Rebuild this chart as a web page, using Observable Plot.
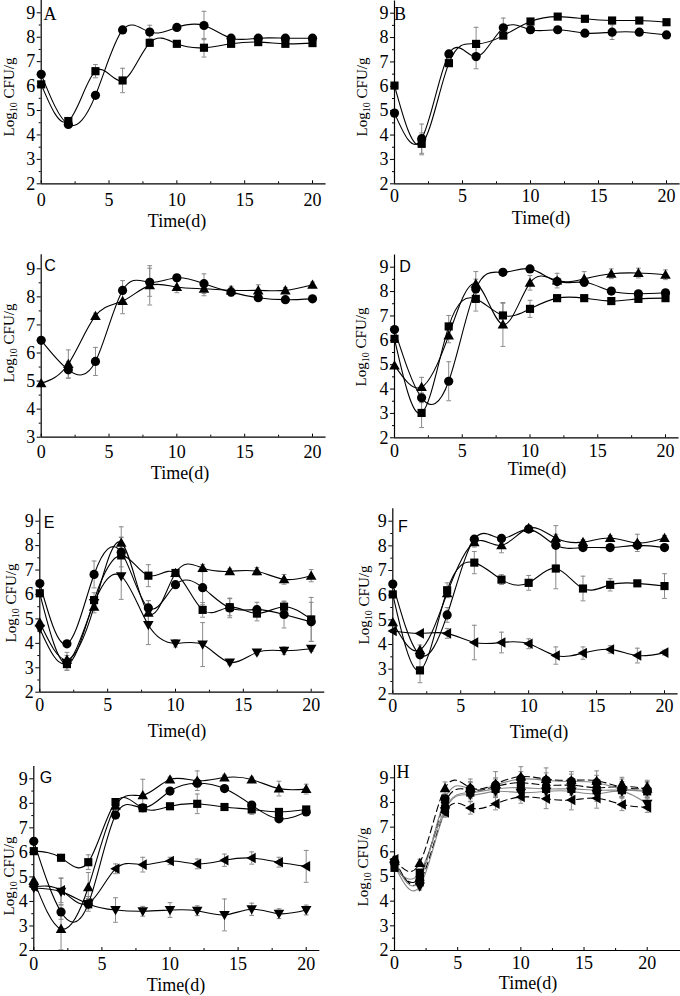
<!DOCTYPE html>
<html><head><meta charset="utf-8">
<script src="https://cdn.jsdelivr.net/npm/d3@7"></script>
<script src="https://cdn.jsdelivr.net/npm/@observablehq/plot@0.6"></script>
<style>
body{margin:0;background:#fff}
#c{position:relative;width:680px;height:996px;background:#fff;overflow:hidden}
#c svg{position:absolute;overflow:visible}
</style>
</head><body><div id="c"></div>
<script>
// ---------- data ----------
const days = [0,2,4,6,8,10,12,14,16,18,20];
const xMajor = [0,5,10,15,20];
const xMinor = [2.5,7.5,12.5,17.5];

const A_circle     = [6.48,4.43,5.62,8.30,8.21,8.40,8.48,7.96,7.96,7.96,7.96];
const A_circle_err = [0.05,0.10,0.10,0.10,0.28,0.10,0.58,0.10,0.05,0.05,0.05];
const A_square     = [6.07,4.57,6.61,6.23,7.77,7.73,7.57,7.73,7.80,7.73,7.76];
const A_square_err = [0.05,0.10,0.27,0.50,0.10,0.10,0.38,0.10,0.10,0.10,0.10];

const B_square     = [6.03,3.64,6.95,7.74,8.08,8.66,8.86,8.77,8.70,8.70,8.63];
const B_square_err = [0.05,0.45,0.10,0.68,0.10,0.10,0.05,0.05,0.05,0.05,0.05];
const B_circle     = [4.90,3.85,7.33,7.22,8.40,8.32,8.32,8.18,8.22,8.22,8.11];
const B_circle_err = [0.05,0.60,0.10,0.50,0.40,0.15,0.05,0.05,0.30,0.10,0.05];

const C_circle       = [6.45,5.40,5.70,8.23,8.52,8.68,8.47,8.17,7.97,7.90,7.93];
const C_circle_err   = [0.05,0.30,0.50,0.35,0.50,0.10,0.35,0.15,0.10,0.05,0.05];
const C_triangle     = [4.92,5.61,7.32,7.85,8.41,8.35,8.29,8.23,8.23,8.23,8.43];
const C_triangle_err = [0.05,0.50,0.10,0.45,0.70,0.20,0.25,0.15,0.20,0.10,0.10];

const D_circle       = [6.44,3.64,4.32,8.11,8.79,8.93,8.41,8.38,8.02,7.91,7.95];
const D_circle_err   = [0.05,0.20,0.80,0.40,0.05,0.05,0.10,0.10,0.05,0.05,0.05];
const D_square       = [6.06,3.02,6.57,7.70,7.02,7.29,7.73,7.73,7.61,7.70,7.73];
const D_square_err   = [0.05,0.60,0.45,0.50,0.50,0.35,0.05,0.05,0.05,0.05,0.05];
const D_triangle     = [4.97,4.08,6.20,8.32,6.65,8.36,8.45,8.52,8.73,8.76,8.69];
const D_triangle_err = [0.05,0.40,0.30,0.50,0.90,0.30,0.30,0.30,0.20,0.20,0.20];

const E_circle       = [6.45,3.98,6.82,7.73,5.45,6.40,6.28,5.45,5.38,5.18,4.88];
const E_circle_err   = [0.05,0.05,0.55,0.60,0.30,0.10,0.70,0.40,0.30,0.55,0.80];
const E_square       = [6.05,3.15,5.77,7.60,6.77,6.88,5.37,5.48,5.22,5.50,4.98];
const E_square_err   = [0.05,0.25,0.30,0.75,0.45,0.10,0.30,0.35,0.30,0.20,0.90];
const E_triangle     = [4.85,3.33,5.50,8.12,5.25,6.88,7.08,6.95,6.95,6.62,6.77];
const E_triangle_err = [0.05,0.30,0.25,0.65,0.50,0.10,0.15,0.10,0.15,0.20,0.25];
const E_down         = [4.60,3.20,5.65,6.75,4.75,4.00,3.95,3.22,3.63,3.70,3.78];
const E_down_err     = [0.05,0.30,0.10,0.95,0.80,0.15,0.90,0.10,0.10,0.15,0.10];

const F_circle       = [6.45,3.58,5.20,8.27,8.30,8.68,8.02,7.93,7.93,8.02,7.93];
const F_circle_err   = [0.05,0.10,0.30,0.15,0.10,0.10,0.80,0.10,0.05,0.10,0.05];
const F_triangle     = [4.90,3.78,6.08,8.15,8.02,8.72,8.32,8.15,8.32,8.12,8.32];
const F_triangle_err = [0.05,0.20,0.10,0.20,0.30,0.10,0.15,0.10,0.10,0.35,0.10];
const F_square       = [6.03,2.95,6.20,7.32,6.63,6.50,7.08,6.27,6.42,6.48,6.37];
const F_square_err   = [0.05,0.50,0.30,0.45,0.20,0.30,0.82,0.50,0.25,0.10,0.50];
const F_left         = [4.55,4.45,4.45,4.08,4.08,4.03,3.55,3.65,3.80,3.55,3.67];
const F_left_err     = [0.05,0.05,0.20,0.70,0.42,0.20,0.35,0.25,0.15,0.30,0.10];

const G_triangle     = [4.85,2.88,4.58,7.90,8.33,8.97,8.92,9.05,8.97,8.60,8.58];
const G_triangle_err = [0.05,0.85,0.60,0.20,0.65,0.10,0.40,0.10,0.10,0.30,0.20];
const G_circle       = [6.45,3.57,3.90,7.52,7.82,8.50,8.82,8.60,7.93,7.37,7.65];
const G_circle_err   = [0.05,0.30,0.30,0.10,0.10,0.10,0.15,0.10,0.10,0.10,0.10];
const G_square       = [6.05,5.78,5.60,8.05,7.80,7.88,7.98,7.85,7.75,7.65,7.75];
const G_square_err   = [0.05,0.10,0.30,0.10,0.10,0.10,0.40,0.10,0.20,0.10,0.10];
const G_left         = [4.60,4.45,3.92,5.33,5.50,5.65,5.53,5.68,5.77,5.60,5.43];
const G_left_err     = [0.05,0.50,0.20,0.20,0.30,0.15,0.20,0.25,0.25,0.20,0.65];
const G_down         = [4.55,4.40,3.90,3.65,3.60,3.65,3.62,3.45,3.68,3.50,3.65];
const G_down_err     = [0.05,0.55,0.20,0.50,0.20,0.30,0.20,0.65,0.25,0.20,0.20];

const H_triangle     = [5.70,5.55,8.58,8.60,8.75,9.05,8.95,8.90,8.88,8.62,8.55];
const H_triangle_err = [0.10,0.15,0.25,0.35,0.50,0.40,0.45,0.35,0.40,0.40,0.35];
const H_circle       = [5.60,4.85,8.15,8.55,8.70,8.95,8.90,8.85,8.80,8.55,8.50];
const H_circle_err   = [0.10,0.15,0.20,0.30,0.30,0.30,0.30,0.30,0.30,0.30,0.30];
const H_diamond      = [5.50,5.00,8.00,8.50,8.65,8.80,8.70,8.70,8.60,8.65,8.55];
const H_diamond_err  = [0.10,0.15,0.20,0.30,0.30,0.30,0.30,0.30,0.30,0.30,0.30];
const H_square       = [5.35,5.15,7.75,8.40,8.55,8.60,8.55,8.55,8.50,8.50,8.45];
const H_square_err   = [0.10,0.15,0.20,0.25,0.25,0.25,0.25,0.25,0.25,0.25,0.25];
const H_down         = [5.45,4.60,7.65,8.30,8.45,8.40,8.45,8.45,8.35,8.45,7.95];
const H_down_err     = [0.10,0.15,0.20,0.25,0.25,0.30,0.30,0.30,0.30,0.25,0.20];
const H_left         = [5.70,4.80,7.60,7.78,7.95,8.22,8.15,8.10,8.17,7.92,7.80];
const H_left_err     = [0.10,0.15,0.20,0.25,0.25,0.25,0.40,0.40,0.40,0.25,0.20];

// ---------- symbols ----------
const triUp   = {draw(c,s){const r=Math.sqrt(s/Math.PI)*1.15;c.moveTo(0,-r);c.lineTo(r,r*0.75);c.lineTo(-r,r*0.75);c.closePath();}};
const triDown = {draw(c,s){const r=Math.sqrt(s/Math.PI)*1.15;c.moveTo(0,r);c.lineTo(-r,-r*0.75);c.lineTo(r,-r*0.75);c.closePath();}};
const triLeft = {draw(c,s){const r=Math.sqrt(s/Math.PI)*1.15;c.moveTo(-r,0);c.lineTo(r*0.75,-r);c.lineTo(r*0.75,r);c.closePath();}};
const capSym  = {draw(c,s){const r=Math.sqrt(s/Math.PI);c.moveTo(-r,0);c.lineTo(r,0);}};

const S = (name, vals, errs, symbol, stroke="#000", dash=null) => ({name, vals, errs, symbol, stroke, dash});

const panels = [
  {letter:"A", serif:true, left:0, top:0, w:340, h:250, ax:40.7, x20:312, xMax:21, y9:12.3, yLo:183.3, yMin:2,
   lx:50, ly:20, ylx:9, yly:97, xlx:177, xly:227, off:9,
   series:[S("sq",A_square,A_square_err,"square"), S("ci",A_circle,A_circle_err,"circle")]},
  {letter:"B", serif:true, left:340, top:0, w:340, h:250, ax:394, x20:666, xMax:21, y9:12.7, yLo:183.3, yMin:2,
   lx:400, ly:20, ylx:362, yly:97, xlx:541, xly:224, off:5.5,
   series:[S("ci",B_circle,B_circle_err,"circle"), S("sq",B_square,B_square_err,"square")]},
  {letter:"C", serif:false, left:0, top:250, w:340, h:250, ax:40.7, x20:312, xMax:21, y9:268.3, yLo:436.7, yMin:3,
   lx:50, ly:271, ylx:9, yly:343, xlx:180, xly:479, off:8,
   series:[S("tr",C_triangle,C_triangle_err,triUp), S("ci",C_circle,C_circle_err,"circle")]},
  {letter:"D", serif:false, left:340, top:250, w:340, h:250, ax:394, x20:665, xMax:21, y9:266.7, yLo:437.3, yMin:2,
   lx:405, ly:272, ylx:361, yly:347, xlx:537, xly:475, off:6,
   series:[S("tr",D_triangle,D_triangle_err,triUp), S("sq",D_square,D_square_err,"square"), S("ci",D_circle,D_circle_err,"circle")]},
  {letter:"E", serif:false, left:0, top:500, w:340, h:250, ax:39.3, x20:310.7, xMax:21, y9:520.7, yLo:691.7, yMin:2,
   lx:49, ly:528, ylx:11, yly:603, xlx:177, xly:737, off:6,
   series:[S("dn",E_down,E_down_err,triDown), S("tr",E_triangle,E_triangle_err,triUp), S("sq",E_square,E_square_err,"square"), S("ci",E_circle,E_circle_err,"circle")]},
  {letter:"F", serif:false, left:340, top:500, w:340, h:250, ax:392.3, x20:664, xMax:21, y9:520.7, yLo:693.3, yMin:2,
   lx:403, ly:532, ylx:364, yly:605, xlx:539, xly:738, off:5.5,
   series:[S("le",F_left,F_left_err,triLeft), S("sq",F_square,F_square_err,"square"), S("tr",F_triangle,F_triangle_err,triUp), S("ci",F_circle,F_circle_err,"circle")]},
  {letter:"G", serif:false, left:0, top:750, w:340, h:246, ax:33.3, x20:305.7, xMax:21, y9:778.3, yLo:950, yMin:2,
   lx:46, ly:783, ylx:9, yly:876, xlx:176, xly:991, off:6.5,
   series:[S("dn",G_down,G_down_err,triDown), S("le",G_left,G_left_err,triLeft), S("sq",G_square,G_square_err,"square"), S("ci",G_circle,G_circle_err,"circle"), S("tr",G_triangle,G_triangle_err,triUp)]},
  {letter:"H", serif:true, left:340, top:750, w:340, h:246, ax:394, x20:646.7, xMax:22.65, y9:777.3, yLo:950, yMin:2,
   lx:403, ly:778, ylx:363, yly:867, xlx:528, xly:989, off:6,
   series:[S("le",H_left,H_left_err,triLeft,"#000","7,4"), S("dn",H_down,H_down_err,triDown,"#888"), S("sq",H_square,H_square_err,"square","#888"),
           S("di",H_diamond,H_diamond_err,"diamond","#000","7,4"), S("ci",H_circle,H_circle_err,"circle","#888"), S("tr",H_triangle,H_triangle_err,triUp,"#000","7,4")]}
];

const serif = "'Liberation Serif','Times New Roman',serif";
const sans  = "'Liberation Sans',Arial,sans-serif";
const container = document.getElementById("c");

for (const p of panels) {
  const unit = (p.yLo - p.y9) / (9 - p.yMin);
  const yTop = 9.5;
  const marginTop = (p.y9 - (yTop - 9) * unit) - p.top;
  const marginBottom = p.top + p.h - p.yLo;
  const marginLeft = p.ax - p.left;
  const xEnd = p.ax + (p.x20 - p.ax) / 20 * p.xMax;
  const marginRight = p.left + p.w - xEnd;

  const rows = p.series.flatMap(s => days.map((d, i) => ({x: d, y: s.vals[i], e: s.errs[i], s: s.name})));
  const marks = [
    Plot.ruleX(rows, {x: "x", y1: d => d.y - d.e, y2: d => d.y + d.e, stroke: "#8a8a8a", strokeWidth: 1}),
    Plot.dot(rows, {x: "x", y: d => d.y + d.e, symbol: capSym, r: 2.4, stroke: "#8a8a8a", strokeWidth: 1, fill: "none"}),
    Plot.dot(rows, {x: "x", y: d => d.y - d.e, symbol: capSym, r: 2.4, stroke: "#8a8a8a", strokeWidth: 1, fill: "none"})
  ];
  for (const s of p.series) {
    const sr = rows.filter(r => r.s === s.name);
    marks.push(Plot.line(sr, {x: "x", y: "y", curve: "natural", stroke: s.stroke, strokeWidth: 1.1, strokeDasharray: s.dash || undefined}));
  }
  for (const s of p.series) {
    const sr = rows.filter(r => r.s === s.name);
    marks.push(Plot.dot(sr, {x: "x", y: "y", symbol: s.symbol, r: 4.6, fill: "#000", stroke: "none"}));
  }
  marks.push(
    Plot.ruleX([0], {stroke: "#000", strokeWidth: 1.2}),
    Plot.ruleY([p.yMin], {stroke: "#000", strokeWidth: 1.2}),
    Plot.axisY(d3.range(p.yMin, 10), {tickSize: 4, tickPadding: 2, label: null, fontSize: 18, fontFamily: serif}),
    Plot.axisY(d3.range(p.yMin + 0.5, 9.5, 1), {tickSize: 2, tickFormat: () => "", label: null}),
    Plot.axisX(xMajor, {tickSize: -3, tickPadding: p.off + 3, label: null, fontSize: 18, fontFamily: serif}),
    Plot.axisX(xMinor, {tickSize: -2, tickFormat: () => "", label: null})
  );

  const svg = Plot.plot({
    width: p.w, height: p.h,
    marginTop, marginBottom, marginLeft, marginRight,
    x: {domain: [0, p.xMax]},
    y: {domain: [p.yMin, yTop]},
    style: {fontFamily: serif, fontSize: "18px", background: "transparent", color: "#000"},
    marks
  });
  svg.style.left = p.left + "px";
  svg.style.top = p.top + "px";
  container.appendChild(svg);

  const g = d3.select(svg);
  // panel letter
  g.append("text").attr("x", p.lx - p.left).attr("y", p.ly - p.top)
    .attr("font-family", p.serif ? serif : sans).attr("font-size", p.serif ? 18 : 16)
    .attr("fill", "#000").text(p.letter);
  // x label
  g.append("text").attr("x", p.xlx - p.left).attr("y", p.xly - p.top)
    .attr("text-anchor", "middle").attr("font-family", serif).attr("font-size", 18)
    .attr("font-weight", "normal").attr("fill", "#000").text("Time(d)");
  // y label
  const yl = g.append("text")
    .attr("transform", `translate(${p.ylx - p.left},${p.yly - p.top}) rotate(-90)`)
    .attr("text-anchor", "middle").attr("dominant-baseline", "central")
    .attr("font-family", serif).attr("font-size", 15).attr("fill", "#000");
  yl.append("tspan").text("Log");
  yl.append("tspan").attr("font-size", 10).attr("dy", 4).text("10");
  yl.append("tspan").attr("dy", -4).text("\u00a0CFU/g");
}
</script>
</body></html>
